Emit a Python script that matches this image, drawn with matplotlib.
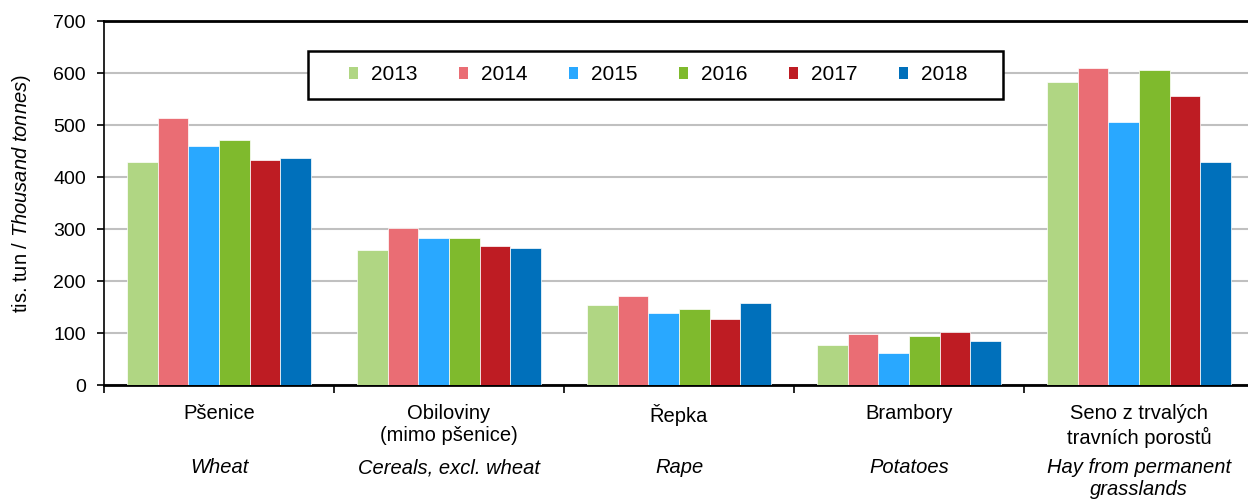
import numpy as np
import matplotlib.pyplot as plt
from matplotlib import transforms
from matplotlib.patches import Rectangle

plt.rcParams['font.family'] = ['Liberation Sans', 'DejaVu Sans']
plt.rcParams['mathtext.fontset'] = 'custom'
plt.rcParams['mathtext.rm'] = 'Liberation Sans'
plt.rcParams['mathtext.it'] = 'Liberation Sans:italic'

# data
years = ['2013', '2014', '2015', '2016', '2017', '2018']
crops_cz = ['Pšenice', 'Obiloviny\n(mimo pšenice)', 'Řepka', 'Brambory',
            'Seno z trvalých\ntravních porostů']
crops_en = ['Wheat', 'Cereals, excl. wheat', 'Rape', 'Potatoes',
            'Hay from permanent\ngrasslands']
v2013 = [429, 260, 153, 76, 583]
v2014 = [513, 302, 172, 99, 610]
v2015 = [460, 283, 138, 61, 506]
v2016 = [471, 283, 146, 95, 605]
v2017 = [433, 268, 126, 102, 556]
v2018 = [437, 264, 157, 84, 429]
series = [v2013, v2014, v2015, v2016, v2017, v2018]
colors = ['#B0D683', '#EA6D74', '#29A8FF', '#7FBA2D', '#BE1C23', '#0070BB']

W, H = 1248, 499
fig = plt.figure(figsize=(W / 100, H / 100), dpi=100)
ax = fig.add_axes([104 / W, 1 - 385 / H, 1150 / W, 364 / H])

x = np.arange(len(crops_cz))
w = 0.8 / len(years)
for i, (vals, c) in enumerate(zip(series, colors)):
    ax.bar(x - 0.4 + w * (i + 0.5), vals, w, color=c, edgecolor='white',
           linewidth=0.5, label=years[i], zorder=3)

ax.set_xlim(-0.5, len(crops_cz) - 0.5)
ax.set_ylim(0, 700)
ax.set_yticks(range(0, 701, 100))
ax.yaxis.grid(True, color='#c0c0c0', linewidth=1.5, zorder=0)
ax.tick_params(axis='y', labelsize=14, direction='out', length=5, width=1.2, pad=8)

# category boundaries as ticks, labels as minor ticks
ax.set_xticks(np.arange(-0.5, len(crops_cz), 1.0))
ax.set_xticklabels([])
ax.tick_params(axis='x', which='major', direction='out', length=6, width=1.2)
ax.set_xticks(x, minor=True)
ax.set_xticklabels(crops_cz, minor=True, fontsize=14.5, linespacing=1.2)
ax.tick_params(axis='x', which='minor', length=0, pad=14)

trans = transforms.blended_transform_factory(ax.transData, fig.transFigure)
for xi, lab in zip(x, crops_en):
    ax.text(xi, 1 - 458 / H, lab, transform=trans, ha='center', va='top',
            fontsize=14.5, style='italic', linespacing=1.2)

ax.spines['left'].set_linewidth(1.2)
ax.spines['bottom'].set_linewidth(2)
ax.spines['top'].set_linewidth(2)
ax.spines['right'].set_linewidth(2)

ax.set_ylabel(r'tis. tun / $\mathit{Thousand\ tonnes}$)', fontsize=14.5)
ax.yaxis.set_label_coords(-0.0617, 0.525)

# legend box drawn separately (wide side padding)
box = Rectangle((308 / W, 1 - 99 / H), 695 / W, 48 / H, transform=fig.transFigure,
                facecolor='white', edgecolor='black', linewidth=1.8, zorder=4)
ax.add_patch(box)
box.set_clip_on(False)
leg = ax.legend(ncol=6, loc='center', bbox_to_anchor=(658 / W, 1 - 75 / H),
                bbox_transform=fig.transFigure, fontsize=15, frameon=False,
                handlelength=0.45, handleheight=0.45, columnspacing=2.0,
                handletextpad=0.6, borderpad=0, borderaxespad=0)
leg.set_zorder(5)
for h in leg.legend_handles:
    h.set_edgecolor('none')

fig.savefig('out.png', dpi=100)
